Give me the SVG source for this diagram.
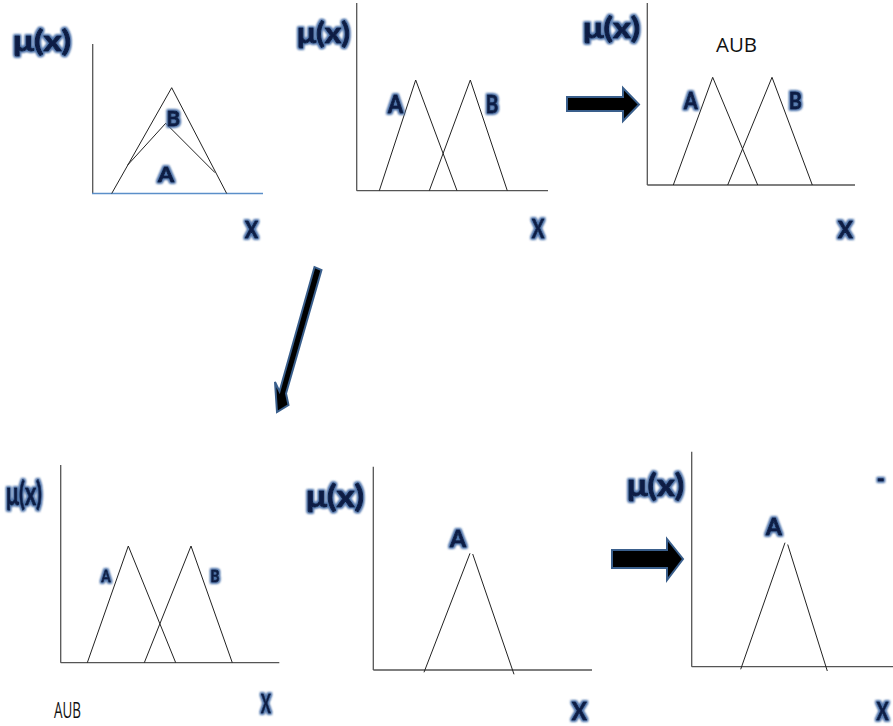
<svg xmlns="http://www.w3.org/2000/svg" width="893" height="726" viewBox="0 0 893 726">
<defs>
<filter id="glow" x="-30%" y="-30%" width="160%" height="160%">
<feMorphology in="SourceAlpha" operator="dilate" radius="0.6" result="d"/>
<feGaussianBlur in="d" stdDeviation="1.2" result="b"/>
<feFlood flood-color="#4d72aa" flood-opacity="0.9"/>
<feComposite in2="b" operator="in" result="g"/>
<feMerge><feMergeNode in="g"/><feMergeNode in="g"/><feMergeNode in="SourceGraphic"/></feMerge>
</filter>
</defs>
<style>
.lbl{font-family:Lato,"Open Sans","Liberation Sans",sans-serif;font-weight:bold;fill:#0c1f45;stroke:#0c1f45;stroke-width:0.9;stroke-linejoin:round;filter:url(#glow)}
.plain{font-family:"Open Sans","Liberation Sans",sans-serif;fill:#111}
.axis{stroke:#555;stroke-width:1.3;fill:none}
.tri{stroke:#222;stroke-width:1;fill:none}
.arrow{fill:#000;stroke:#3a5f8c;stroke-width:2;stroke-linejoin:miter}
</style>
<rect width="893" height="726" fill="#fff"/>

<g id="panel1">
<line class="axis" x1="92.7" y1="44" x2="92.7" y2="193.5"/>
<line x1="92" y1="193.5" x2="263" y2="193.5" stroke="#5b8fc9" stroke-width="1.3"/>
<polyline class="tri" points="111.7,193.5 171.7,87.7 226.7,193.5"/>
<polyline class="tri" points="127.7,165 165.7,123.3 215,172.7"/>
<text class="lbl" x="13" y="51" font-size="28" textLength="58" lengthAdjust="spacingAndGlyphs">μ(x)</text>
<text class="lbl" x="166.5" y="125.7" font-size="21" textLength="13.5" lengthAdjust="spacingAndGlyphs">B</text>
<text class="lbl" x="158" y="182" font-size="21" textLength="16" lengthAdjust="spacingAndGlyphs">A</text>
<text class="lbl" x="245" y="238" font-size="22" textLength="13" lengthAdjust="spacingAndGlyphs">X</text>
</g>

<g id="panel2">
<line class="axis" x1="356.7" y1="3" x2="356.7" y2="190.7"/>
<line class="axis" x1="356.7" y1="190.7" x2="548" y2="190.7"/>
<polyline class="tri" points="379.3,190.7 415.7,80 457,190.7"/>
<polyline class="tri" points="429.3,190.7 470.3,80 507.3,190.7"/>
<text class="lbl" x="297" y="42.5" font-size="28" textLength="53" lengthAdjust="spacingAndGlyphs">μ(x)</text>
<text class="lbl" x="388" y="113" font-size="24" textLength="15" lengthAdjust="spacingAndGlyphs">A</text>
<text class="lbl" x="485.7" y="113" font-size="24" textLength="12.5" lengthAdjust="spacingAndGlyphs">B</text>
<text class="lbl" x="531.7" y="238" font-size="27" textLength="12.5" lengthAdjust="spacingAndGlyphs">X</text>
</g>

<g id="panel3">
<line class="axis" x1="647.3" y1="3" x2="647.3" y2="185"/>
<line class="axis" x1="647.3" y1="185" x2="855" y2="185"/>
<polyline class="tri" points="673.3,185 712.7,77.3 757.7,185"/>
<polyline class="tri" points="727.7,185 772,77.3 812.3,185"/>
<text class="lbl" x="583" y="37.5" font-size="28" textLength="57" lengthAdjust="spacingAndGlyphs">μ(x)</text>
<text class="plain" x="716" y="52" font-size="20" textLength="41" lengthAdjust="spacingAndGlyphs">AUB</text>
<text class="lbl" x="684" y="109" font-size="22" textLength="13.5" lengthAdjust="spacingAndGlyphs">A</text>
<text class="lbl" x="789" y="109" font-size="22" textLength="12.7" lengthAdjust="spacingAndGlyphs">B</text>
<text class="lbl" x="838" y="238" font-size="22" textLength="14.7" lengthAdjust="spacingAndGlyphs">X</text>
</g>

<g id="panel4">
<line class="axis" x1="60.7" y1="465" x2="60.7" y2="662.7"/>
<line class="axis" x1="60.7" y1="662.7" x2="279.3" y2="662.7"/>
<polyline class="tri" points="87.3,662.7 128.3,546 175.7,662.7"/>
<polyline class="tri" points="144.3,662.7 191,546 232.3,662.7"/>
<text class="lbl" x="6" y="505" font-size="33" textLength="36" lengthAdjust="spacingAndGlyphs">μ(x)</text>
<text class="lbl" x="101.5" y="582" font-size="17" textLength="9" lengthAdjust="spacingAndGlyphs">A</text>
<text class="lbl" x="210.5" y="582" font-size="17" textLength="9" lengthAdjust="spacingAndGlyphs">B</text>
<text class="lbl" x="261" y="712.7" font-size="27" textLength="9.7" lengthAdjust="spacingAndGlyphs">X</text>
<text class="plain" x="54" y="718.3" font-size="22" textLength="27" lengthAdjust="spacingAndGlyphs">AUB</text>
</g>

<g id="panel5">
<line class="axis" x1="373.3" y1="466.7" x2="373.3" y2="670"/>
<line class="axis" x1="373.3" y1="670" x2="592" y2="670"/>
<line class="tri" x1="424" y1="672.3" x2="470" y2="553.3"/>
<line class="tri" x1="472.7" y1="554" x2="514" y2="674.3"/>
<text class="lbl" x="306" y="507" font-size="31" textLength="58" lengthAdjust="spacingAndGlyphs">μ(x)</text>
<text class="lbl" x="450" y="546.7" font-size="23" textLength="16" lengthAdjust="spacingAndGlyphs">A</text>
<text class="lbl" x="571.7" y="720" font-size="25" textLength="15" lengthAdjust="spacingAndGlyphs">X</text>
</g>

<g id="panel6">
<line class="axis" x1="691.7" y1="451.7" x2="691.7" y2="666.7"/>
<line class="axis" x1="691.7" y1="666.7" x2="893" y2="666.7"/>
<line class="tri" x1="740.7" y1="669.3" x2="785" y2="542.7"/>
<line class="tri" x1="787.7" y1="544.5" x2="827.3" y2="671"/>
<text class="lbl" x="627" y="496" font-size="30" textLength="57" lengthAdjust="spacingAndGlyphs">μ(x)</text>
<text class="lbl" x="766" y="535" font-size="23" textLength="15.7" lengthAdjust="spacingAndGlyphs">A</text>
<text class="lbl" x="877" y="486" font-size="20">-</text>
<text class="lbl" x="876.5" y="720" font-size="25" textLength="12" lengthAdjust="spacingAndGlyphs">X</text>
</g>

<g id="connectors">
<polygon class="arrow" points="567,97 623,97 623,88 639,104.5 623,121 623,111 567,111"/>
<polygon class="arrow" points="612,550 667,550 667,539 683,559 667,580 667,568 612,568"/>
<polygon class="arrow" points="321.5,270 286,393.5 288.5,405 277,412 275,382 279.5,391.5 314.5,267"/>
</g>
</svg>
